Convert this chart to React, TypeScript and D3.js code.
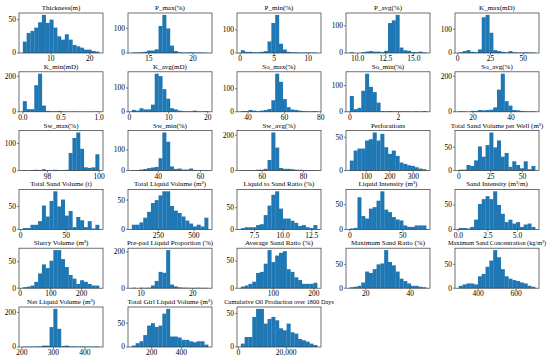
import * as d3 from 'd3';

// histogram bin counts, 20 bins per variable
const thickness = [17, 30, 33, 38, 46, 57, 45, 50, 38, 25, 20, 28, 20, 12, 10, 8, 5, 5, 3, 2];
const pMax = [2, 2, 3, 5, 10, 10, 15, 110, 155, 100, 30, 8, 3, 2, 2, 3, 2, 2, 2, 1];
const pMin = [12, 5, 5, 3, 3, 5, 8, 50, 130, 165, 40, 15, 5, 3, 3, 2, 2, 2, 2, 2];
const pAvg = [3, 0, 0, 3, 5, 7, 5, 5, 3, 8, 110, 120, 140, 20, 10, 8, 3, 3, 5, 2];
const kMax = [3, 8, 12, 5, 3, 15, 150, 160, 85, 12, 8, 5, 3, 8, 3, 2, 2, 3, 2, 2];
const kMin = [60, 15, 15, 150, 215, 35, 5, 3, 3, 5, 2, 1, 1, 2, 1, 1, 1, 1, 1, 2];
const kAvg = [8, 5, 15, 10, 10, 30, 160, 150, 95, 55, 15, 10, 5, 3, 2, 2, 5, 2, 2, 3];
const soMax = [3, 3, 8, 5, 3, 5, 8, 12, 50, 165, 130, 55, 20, 10, 8, 5, 3, 2, 2, 3];
const soMin = [60, 10, 15, 80, 145, 95, 75, 35, 3, 2, 3, 2, 2, 2, 2, 2, 1, 2, 1, 3];
const soAvg = [3, 2, 0, 5, 5, 10, 8, 10, 12, 25, 125, 215, 60, 35, 10, 8, 5, 3, 2, 3];
const swMax = [2, 0, 2, 3, 2, 5, 2, 2, 3, 2, 2, 3, 65, 120, 140, 80, 12, 10, 12, 60];
const swMin = [2, 3, 5, 8, 12, 15, 18, 60, 185, 140, 20, 8, 10, 5, 5, 10, 3, 2, 2, 2];
const swAvg = [2, 2, 3, 3, 5, 5, 10, 60, 215, 130, 15, 10, 10, 8, 5, 5, 3, 3, 2, 2];
const perforations = [15, 30, 33, 33, 45, 47, 57, 45, 55, 35, 25, 30, 22, 12, 10, 8, 7, 5, 3, 2];
const sandPerWell = [2, 2, 12, 10, 22, 52, 30, 55, 82, 50, 65, 30, 38, 8, 20, 12, 5, 20, 3, 10];
const sandVolume = [3, 3, 10, 10, 18, 52, 28, 62, 83, 50, 65, 30, 40, 5, 27, 20, 5, 18, 2, 10];
const liquidVolume = [8, 8, 12, 20, 30, 45, 50, 58, 65, 65, 40, 32, 28, 22, 15, 10, 5, 8, 5, 20];
const liquidSandRatio = [3, 5, 5, 5, 10, 12, 33, 55, 80, 88, 48, 25, 25, 20, 15, 8, 10, 5, 3, 10];
const liquidIntensity = [2, 3, 65, 27, 22, 42, 45, 58, 77, 40, 35, 25, 20, 18, 8, 5, 5, 8, 8, 8];
const sandIntensity = [3, 3, 2, 5, 20, 52, 62, 68, 62, 78, 50, 32, 15, 20, 12, 15, 5, 10, 12, 5];
const slurryVolume = [2, 3, 5, 12, 28, 45, 38, 52, 72, 72, 55, 40, 25, 18, 8, 15, 12, 8, 5, 5];
const prePad = [3, 0, 3, 2, 3, 15, 40, 90, 85, 210, 20, 10, 5, 3, 3, 2, 2, 3, 2, 2];
const avgSandRatio = [3, 5, 8, 12, 28, 30, 45, 70, 48, 60, 65, 68, 35, 30, 20, 15, 8, 8, 8, 10];
const maxSandRatio = [2, 3, 5, 12, 35, 32, 40, 50, 52, 80, 55, 48, 35, 20, 15, 10, 5, 5, 3, 2];
const maxSandConc = [5, 8, 10, 10, 8, 25, 30, 45, 58, 80, 65, 40, 25, 20, 17, 15, 12, 10, 5, 3];
const netLiquid = [2, 2, 2, 3, 3, 8, 8, 115, 220, 105, 5, 8, 3, 3, 2, 3, 2, 2, 2, 3];
const gelLiquid = [3, 8, 12, 25, 45, 50, 42, 45, 70, 80, 22, 22, 20, 15, 15, 12, 10, 12, 12, 5];
const cumOil = [5, 15, 15, 45, 57, 57, 35, 42, 45, 40, 28, 25, 35, 22, 20, 12, 10, 8, 5, 3];

const titles = [
    'Thickness(m)', 'P_max(%)', 'P_min(%)', 'P_avg(%)', 'K_max(mD)',
    'K_min(mD)', 'K_avg(mD)', 'So_max(%)', 'So_min(%)', 'So_avg(%)',
    'Sw_max(%)', 'Sw_min(%)', 'Sw_avg(%)', 'Perforations', 'Total Sand Volume per Well (m³)',
    'Total Sand Volume (t)', 'Total Liquid Volume (m³)', 'Liquid to Sand Ratio (%)', 'Liquid Intensity (m³)', 'Sand Intensity (m³/m)',
    'Slurry Volume (m³)', 'Pre-pad Liquid Proportion (%)', 'Average Sand Ratio (%)', 'Maximum Sand Ratio (%)', 'Maximum Sand Concentration (kg/m³)',
    'Net Liquid Volume (m³)', 'Total Girl Liquid Volume (m³)', 'Cumulative Oil Production over 1800 Days',
];

const counts = [
    thickness, pMax, pMin, pAvg, kMax,
    kMin, kAvg, soMax, soMin, soAvg,
    swMax, swMin, swAvg, perforations, sandPerWell,
    sandVolume, liquidVolume, liquidSandRatio, liquidIntensity, sandIntensity,
    slurryVolume, prePad, avgSandRatio, maxSandRatio, maxSandConc,
    netLiquid, gelLiquid, cumOil,
];

// data range [min, max] of each histogram
const binRanges = [
    [2.8, 22.4], [13.1, 21.7], [0.1, 11.3], [9.3, 16.1], [0.9, 59],
    [0.0, 1.0], [0.6, 20.1], [36, 78], [0.0, 3.14], [12.5, 52.8],
    [97.05, 100.0], [27.4, 63.7], [49.6, 86.7], [30, 355], [0, 60],
    [2.3, 86.4], [64, 600], [6.3, 12.97], [0, 72], [0.04, 6.5],
    [9, 257], [8.2, 23], [20, 208], [12.8, 47.2], [298, 701],
    [203, 445], [66, 581], [1000, 33000],
];

const xTicks = [
    [10, 20], [15, 20], [0, 5, 10], [10, 12.5, 15], [0, 25, 50],
    [0, 0.5, 1], [0, 10, 20], [40, 60, 80], [0, 2], [20, 40],
    [98, 100], [40, 60], [60, 80], [100, 200, 300], [0, 25, 50],
    [0, 50], [250, 500], [7.5, 10, 12.5], [0, 50], [0, 2.5, 5],
    [0, 100, 200], [10, 20], [100, 200], [20, 40], [400, 600],
    [200, 300, 400], [200, 400], [0, 20000],
];

const xTickFormats = [
    'd', 'd', 'd', '.1f', 'd',
    '.1f', 'd', 'd', 'd', 'd',
    'd', 'd', 'd', 'd', 'd',
    'd', 'd', '.1f', 'd', '.1f',
    'd', 'd', 'd', 'd', 'd',
    'd', 'd', ',d',
];

const yTicks = [
    [0, 50], [0, 100], [0, 100], [0, 100], [0, 100],
    [0, 200], [0, 100], [0, 100], [0, 100], [0, 200],
    [0, 100], [0, 100], [0, 200], [0, 50], [0, 50],
    [0, 50], [0, 50], [0, 50], [0, 50], [0, 50],
    [0, 50], [0, 200], [0, 50], [0, 50], [0, 50],
    [0, 200], [0, 50], [0, 50],
];

const W = 84;
const H = 40;
const font = '"Liberation Serif", "Times New Roman", serif';

const Panel = ({idx}: {idx: number}) => {
    const data = counts[idx];
    const [lo, hi] = binRanges[idx];
    const span = hi - lo;
    const bw = span / data.length;
    const x = d3.scaleLinear().domain([lo - 0.05 * span, hi + 0.05 * span]).range([0, W]);
    const y = d3.scaleLinear().domain([0, d3.max(data)! * 1.05]).range([H, 0]);
    const fmt = d3.format(xTickFormats[idx]);
    const col = idx % 5;
    const row = Math.floor(idx / 5);
    const left = 19 + col * 109;
    const top = 13 + row * 58.8;
    const titleSize = titles[idx].length > 33 ? 6.3 : 7;

    return (
        <g transform={`translate(${left},${top})`}>
            <text x={W / 2} y={-3} textAnchor="middle" fontSize={titleSize} fontFamily={font} fill="#000">
                {titles[idx]}
            </text>
            {data.map((c, i) => (
                <rect
                    key={i}
                    x={x(lo + i * bw)}
                    y={y(c)}
                    width={x(lo + (i + 1) * bw) - x(lo + i * bw) + 0.2}
                    height={H - y(c)}
                    fill="#1f77b4"
                />
            ))}
            <rect x={0} y={0} width={W} height={H} fill="none" stroke="#333" strokeWidth={0.7} />
            {yTicks[idx].map((t) => (
                <g key={t} transform={`translate(0,${y(t)})`}>
                    <line x1={-2} x2={0} stroke="#333" strokeWidth={0.6} />
                    <text x={-3} dy="0.32em" textAnchor="end" fontSize={7.5} fontFamily={font} fill="#000">
                        {t}
                    </text>
                </g>
            ))}
            {xTicks[idx].map((t) => (
                <g key={t} transform={`translate(${x(t)},${H})`}>
                    <line y1={0} y2={2} stroke="#333" strokeWidth={0.6} />
                    <text y={8.3} textAnchor="middle" fontSize={7.5} fontFamily={font} fill="#000">
                        {fmt(t)}
                    </text>
                </g>
            ))}
        </g>
    );
};

export default function App() {
    return (
        <div style={{position: 'fixed', left: 0, top: 0}}>
            <svg width={550} height={358} style={{display: 'block', background: '#fff'}}>
                {counts.map((_, i) => (
                    <Panel key={i} idx={i} />
                ))}
            </svg>
        </div>
    );
}
